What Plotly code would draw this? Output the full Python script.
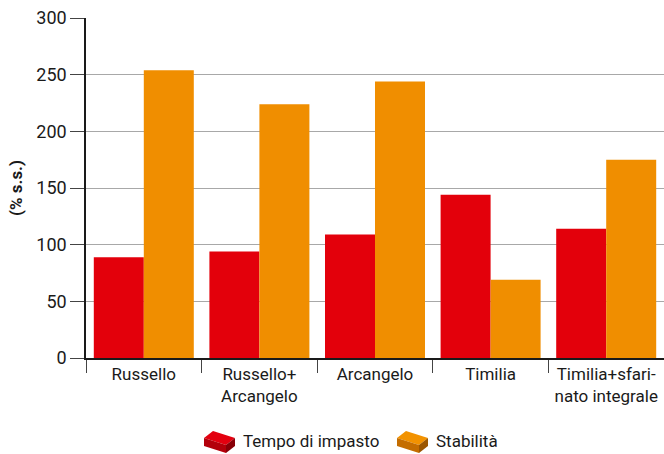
import plotly.graph_objects as go

categories = ["Russello", "Russello+<br>Arcangelo", "Arcangelo", "Timilia", "Timilia+sfari-<br>nato integrale"]
tempo_impasto = [89, 94, 109, 144, 114]
stabilita = [254, 224, 244, 69, 175]
y_ticks = [0, 50, 100, 150, 200, 250, 300]

RED = "#E3000B"
ORANGE = "#F08E00"
FONT = "Roboto, sans-serif"

W, H = 664, 454
ML, MR, MT, MB = 86, 0, 18, 96
PW, PH = W - ML - MR, H - MT - MB

fig = go.Figure()
fig.add_trace(go.Bar(x=categories, y=tempo_impasto, name="Tempo di impasto",
                     marker=dict(color=RED, line=dict(width=0))))
fig.add_trace(go.Bar(x=categories, y=stabilita, name="Stabilità",
                     marker=dict(color=ORANGE, line=dict(width=0))))


def px(x, y):
    # screen pixel -> paper coordinates
    return (x - ML) / PW, (H - MB - y) / PH


def brick(x0, y0, top, front, side):
    faces = [
        ([(0, 8), (9, 1), (31, 8), (22, 15)], top),
        ([(0, 8), (22, 15), (22, 23), (0, 16)], front),
        ([(22, 15), (31, 8), (31, 16), (22, 23)], side),
    ]
    shapes = []
    for pts, col in faces:
        coords = [px(x0 + dx, y0 + dy) for dx, dy in pts]
        path = "M " + " L ".join(f"{a:.5f},{b:.5f}" for a, b in coords) + " Z"
        shapes.append(dict(type="path", xref="paper", yref="paper", path=path,
                           fillcolor=col, line=dict(width=0), layer="above"))
    return shapes


shapes = brick(204, 430, "#E3000F", "#B3000A", "#880007")
shapes += brick(397, 430, "#F29200", "#C46D00", "#9C5600")

annotations = []
for label, xpix in [("Tempo di impasto", 241), ("Stabilità", 434)]:
    ax, ay = px(xpix, 441)
    annotations.append(dict(text=label, xref="paper", yref="paper", x=ax, y=ay,
                            xanchor="left", yanchor="middle", showarrow=False,
                            font=dict(family=FONT, size=17, color="#1a1a1a")))

fig.update_layout(
    width=W, height=H,
    margin=dict(l=ML, r=MR, t=MT, b=MB, pad=0),
    paper_bgcolor="white", plot_bgcolor="white",
    barmode="group", bargap=0.135, bargroupgap=0,
    showlegend=False,
    font=dict(family=FONT, size=17, color="#1a1a1a"),
    shapes=shapes, annotations=annotations,
    xaxis=dict(
        type="category", showgrid=False,
        showline=True, linecolor="#1a1a1a", linewidth=1.5,
        ticks="outside", tickson="boundaries", ticklen=13, tickwidth=1.2,
        tickcolor="#444444", tickfont=dict(size=17, color="#1a1a1a"),
    ),
    yaxis=dict(
        range=[0, 300], tickvals=y_ticks, showgrid=True,
        gridcolor="#A8A8A8", gridwidth=1.2,
        showline=True, linecolor="#1a1a1a", linewidth=1.5,
        ticks="outside", ticklen=14, tickwidth=1.2, tickcolor="#444444",
        tickfont=dict(size=18, color="#1a1a1a"),
        title=dict(text="<b>(% s.s.)</b>", font=dict(size=17, color="#1a1a1a"), standoff=9),
        zeroline=False,
    ),
)

fig.write_html("out.html")
